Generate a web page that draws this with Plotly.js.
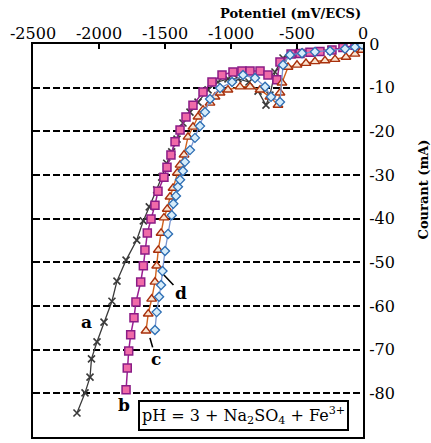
<!DOCTYPE html>
<html>
<head>
<meta charset="utf-8">
<script src="https://cdn.plot.ly/plotly-3.0.1.min.js"></script>
<style>html,body{margin:0;padding:0;background:#fff;}#chart{width:431px;height:443px;}</style>
</head>
<body>
<div id="chart"></div>
<script>
// Potentiel (mV/ECS) and Courant (mA) for each curve
const potentialA = [-2167,-2106,-2068,-2057,-2015,-1962,-1902,-1864,-1795,-1714,-1664,-1619,-1563,-1525,-1487,-1449,-1409,-1364,-1311,-1250,-1174,-1099,-1023,-947,-864,-795,-735,-705,-667,-606,-538,-439,-341,-242,-152,-61,-8];
const currentA   = [-84.5,-79.9,-76.3,-72.1,-68.2,-63.7,-58.9,-54.3,-49.5,-44.9,-40.5,-37.3,-33.4,-30.5,-27.3,-24.7,-21.8,-18.1,-15.6,-13.3,-10.5,-8.7,-8.0,-8.0,-8.7,-10.8,-14.0,-11.7,-6.4,-3.2,-2.3,-1.8,-1.6,-1.3,-0.9,-0.5,-0.1];

const potentialB = [-1795,-1786,-1775,-1760,-1735,-1720,-1684,-1664,-1652,-1634,-1606,-1576,-1553,-1508,-1485,-1455,-1424,-1386,-1341,-1288,-1212,-1144,-1068,-985,-917,-856,-780,-720,-652,-629,-545,-477,-402,-326,-235,-152,-61,-8];
const currentB   = [-79.2,-74.2,-70.3,-66.6,-62.7,-59.1,-54.5,-50.8,-47.2,-43.3,-40.1,-36.9,-33.7,-30.5,-28.2,-25.4,-22.4,-19.7,-16.7,-14.0,-11.0,-8.7,-7.1,-6.4,-6.2,-6.2,-6.2,-7.1,-8.2,-4.1,-2.3,-2.2,-1.9,-1.7,-1.4,-0.8,-0.3,-0.1];

const potentialC = [-1644,-1627,-1601,-1576,-1563,-1551,-1530,-1508,-1483,-1462,-1439,-1407,-1386,-1356,-1326,-1288,-1250,-1212,-1159,-1121,-1083,-1023,-932,-856,-780,-705,-644,-629,-614,-568,-500,-432,-364,-288,-212,-129,-61,-8];
const currentC   = [-65.7,-61.8,-58.4,-54.5,-50.8,-47.2,-43.3,-39.8,-37.8,-35.0,-33.0,-29.5,-27.7,-25.4,-21.3,-19.0,-16.7,-15.1,-13.5,-12.1,-11.2,-10.5,-9.8,-9.8,-10.5,-12.1,-14.0,-11.2,-8.9,-5.3,-4.8,-4.4,-4.0,-3.8,-3.5,-3.0,-2.3,-1.4];

const potentialD = [-1576,-1563,-1545,-1530,-1519,-1500,-1477,-1449,-1437,-1417,-1402,-1386,-1364,-1349,-1311,-1273,-1235,-1197,-1159,-1083,-992,-909,-818,-742,-697,-629,-606,-553,-462,-364,-250,-136,-61,-8];
const currentD   = [-65.5,-61.4,-57.9,-55.2,-52.0,-47.4,-43.5,-39.2,-36.6,-34.8,-32.7,-31.1,-29.1,-27.0,-24.3,-21.5,-18.8,-15.6,-12.6,-10.1,-8.7,-7.1,-7.8,-9.8,-12.1,-13.3,-4.8,-2.5,-2.1,-1.8,-1.6,-1.1,-0.7,-0.2];

const xTickVals = [-2500,-2000,-1500,-1000,-500,0];
const xTickText = ["-2500","-2000","-1500","-1000","-500","0"];
const yTickVals = [0,-10,-20,-30,-40,-50,-60,-70,-80,-90];
const yTickText = ["0","-10","-20","-30","-40","-50","-60","-70","-80","-90"];

const serif = "DejaVu Serif";

const traces = [
  {x: potentialA, y: currentA, mode:'lines+markers', name:'a',
   line:{color:'#3a3a3a', width:1.3},
   marker:{symbol:'x-thin', size:7, line:{color:'#3a3a3a', width:1.6}}},
  {x: potentialB, y: currentB, mode:'lines+markers', name:'b',
   line:{color:'#9a1f93', width:1.5},
   marker:{symbol:'square', size:8, color:'#f06aa8', line:{color:'#8b1c86', width:1.5}}},
  {x: potentialC, y: currentC, mode:'lines+markers', name:'c',
   line:{color:'#d0621e', width:1.4},
   marker:{symbol:'triangle-up', size:8.5, color:'#fbe3cf', line:{color:'#a8300c', width:1.4}}},
  {x: potentialD, y: currentD, mode:'lines+markers', name:'d',
   line:{color:'#7894d0', width:1.3},
   marker:{symbol:'diamond', size:7, color:'#d6ecfa', line:{color:'#2c6db3', width:1.3}}}
];

const layout = {
  width:431, height:443,
  margin:{l:33, r:68, t:44, b:6, pad:0},
  paper_bgcolor:'#fff', plot_bgcolor:'#fff',
  showlegend:false,
  font:{family:serif, color:'#000'},
  xaxis:{range:[-2500,0], side:'top', tickvals:xTickVals, ticktext:xTickText,
    ticks:'inside', ticklen:5, tickwidth:1.5, tickcolor:'#000', ticklabelstandoff:-3,
    showline:true, linewidth:2, linecolor:'#000', mirror:true,
    showgrid:false, zeroline:false, tickfont:{family:serif, size:16, color:'#000'}},
  yaxis:{range:[-90,0], side:'right', tickvals:yTickVals, ticktext:yTickText,
    ticks:'', ticklabelstandoff:1,
    showline:true, linewidth:2, linecolor:'#000', mirror:true,
    showgrid:true, gridcolor:'#000', gridwidth:1.8, griddash:'7px,3px',
    zeroline:false, tickfont:{family:serif, size:16, color:'#000'}},
  annotations:[
    {xref:'paper', yref:'paper', x:1.0, y:1, yshift:31, xanchor:'right', yanchor:'middle',
     text:'<b>Potentiel (mV/ECS)</b>', showarrow:false, font:{family:serif, size:13, color:'#000'}},
    {xref:'paper', yref:'paper', x:1, xshift:60, y:0.63, xanchor:'center', yanchor:'middle',
     text:'<b>Courant (mA)</b>', textangle:-90, showarrow:false, font:{family:serif, size:13, color:'#000'}},
    {x:-2091, y:-63.7, text:'<b>a</b>', showarrow:false, font:{family:serif, size:17, color:'#000'}},
    {x:-1810, y:-82.7, text:'<b>b</b>', showarrow:false, font:{family:serif, size:17, color:'#000'}},
    {x:-1614, y:-67.3, text:'<b>c</b>', showarrow:true, arrowhead:0, arrowwidth:1.6, arrowcolor:'#000',
     ax:6, ay:21, standoff:0, font:{family:serif, size:17, color:'#000'}},
    {x:-1508, y:-52.9, text:'<b>d</b>', showarrow:true, arrowhead:0, arrowwidth:1.6, arrowcolor:'#000',
     ax:17, ay:18, standoff:0, font:{family:serif, size:17, color:'#000'}},
    {x:-902, y:-85.1, text:'pH = 3 + Na<sub>2</sub>SO<sub>4</sub> + Fe<sup>3+</sup>', showarrow:false,
     bordercolor:'#000', borderwidth:2, borderpad:2, bgcolor:'#fff',
     font:{family:serif, size:16, color:'#000'}}
  ]
};

Plotly.newPlot('chart', traces, layout, {displayModeBar:false, staticPlot:true});
</script>
</body>
</html>
